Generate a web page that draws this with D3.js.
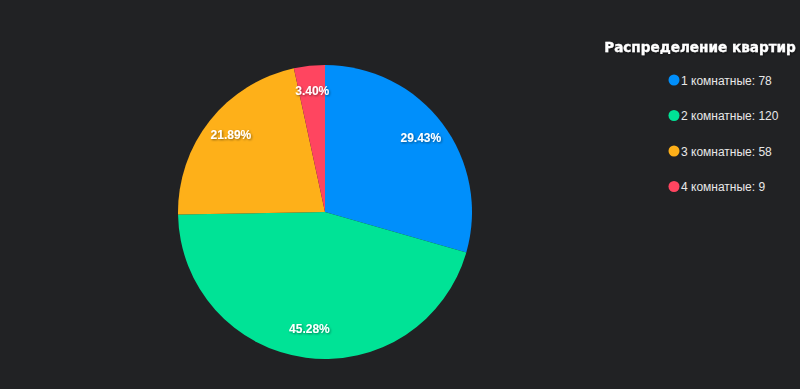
<!DOCTYPE html>
<html><head><meta charset="utf-8">
<script src="https://cdn.jsdelivr.net/npm/d3@7"></script>
<style>
html,body{margin:0;padding:0;background:#212224;}
svg{display:block;font-family:"Liberation Sans",Arial,sans-serif;}
</style></head>
<body>
<svg id="chart" width="800" height="389"></svg>
<script>
const categories = ["1 комнатные", "2 комнатные", "3 комнатные", "4 комнатные"];
const values = [78, 120, 58, 9];
const colors = ["#008FFB", "#00E396", "#FEB019", "#FF4560"];
const title = "Распределение квартир";

const svg = d3.select("#chart");
const defs = svg.append("defs");
const f = defs.append("filter").attr("id","sh").attr("x","-20%").attr("y","-20%").attr("width","140%").attr("height","140%");
f.append("feDropShadow").attr("dx",1).attr("dy",1).attr("stdDeviation",1).attr("flood-color","#000").attr("flood-opacity",0.45);

const cx = 325, cy = 212, r = 147;
const total = d3.sum(values);
const data = categories.map((c,i)=>({c, v: values[i], col: colors[i]}));
const pie = d3.pie().value(d=>d.v).sort(null);
const arc = d3.arc().innerRadius(0).outerRadius(r);
const labelArc = d3.arc().innerRadius(120).outerRadius(120);
const g = svg.append("g").attr("transform",`translate(${cx},${cy})`);
const arcs = pie(data);
g.selectAll("path").data(arcs).join("path")
  .attr("d", arc).attr("fill", d=>d.data.col);
g.selectAll("text").data(arcs).join("text")
  .attr("transform", d=>{const p = labelArc.centroid(d); return `translate(${p[0]},${p[1]+2})`;})
  .attr("text-anchor","middle").attr("fill","#fff")
  .attr("font-size",12).attr("font-weight","bold")
  .attr("filter","url(#sh)")
  .text(d=>(d.data.v/total*100).toFixed(2)+"%");

const lg = svg.append("g");
lg.append("text").attr("x",700).attr("y",52).attr("text-anchor","middle")
  .attr("fill","#fff").attr("font-size",13.6).attr("font-weight","bold")
  .attr("font-family","'DejaVu Sans',sans-serif")
  .attr("stroke","#fff").attr("stroke-width",0.3)
  .attr("filter","url(#sh)").text(title);
const items = lg.selectAll("g.item").data(data).join("g").attr("class","item")
  .attr("transform",(d,i)=>`translate(674,${80 + i*35.5})`);
items.append("circle").attr("r",5.5).attr("cx",0).attr("cy",0).attr("fill",d=>d.col);
items.append("text").attr("x",7).attr("y",4.5).attr("fill","#e8e8e8")
  .attr("font-size",12).text(d=>`${d.c}: ${d.v}`);
</script>
</body></html>
